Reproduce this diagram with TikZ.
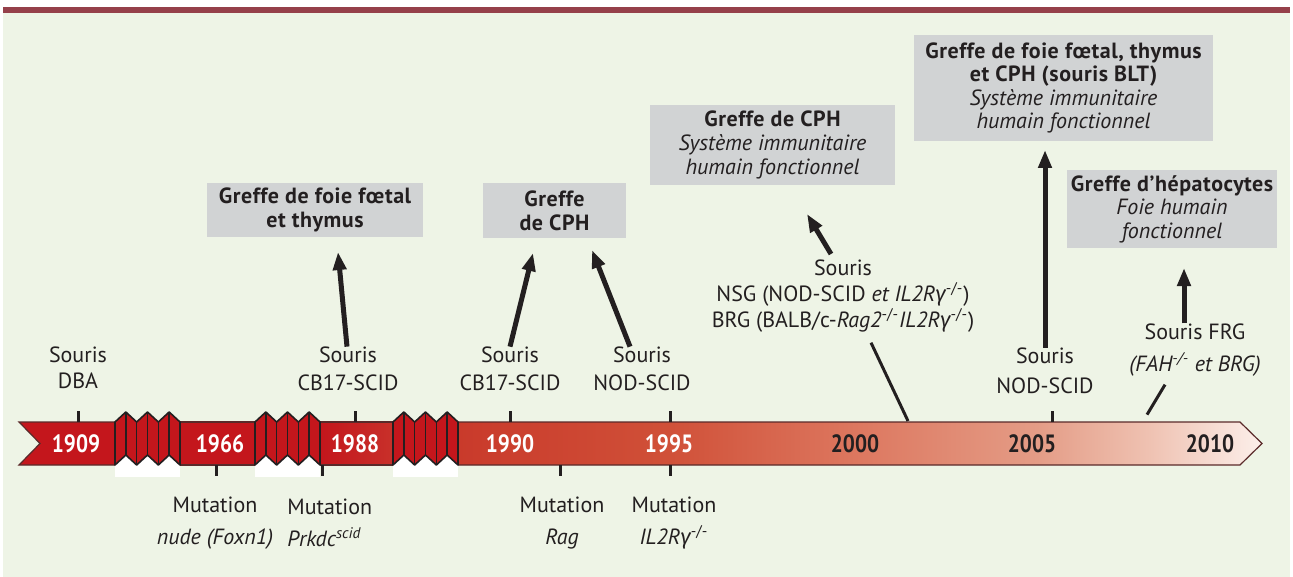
\documentclass[tikz,border=0pt]{standalone}
\usepackage{fontspec}
\setmainfont{PT Sans}
\newfontfamily\grkfont{Fira Sans}
\newfontfamily\yearfont[FakeStretch=0.85]{PT Sans}
\usetikzlibrary{arrows.meta}

\definecolor{bgcol}{HTML}{EEF4E6}
\definecolor{bandcol}{HTML}{95404A}
\definecolor{boxcol}{HTML}{D1D3D4}
\definecolor{inkcol}{HTML}{231F20}
\definecolor{redA}{HTML}{C4161C}
\definecolor{redB}{HTML}{C8302A}
\definecolor{fadeA}{HTML}{C93A2B}
\definecolor{fadeB}{HTML}{D05038}
\definecolor{fadeC}{HTML}{DD7860}
\definecolor{fadeD}{HTML}{E49C86}
\definecolor{fadeE}{HTML}{EFC2B2}
\definecolor{fadeF}{HTML}{FCEFEA}
\definecolor{rimcol}{HTML}{5A2A2A}

\pgfdeclarehorizontalshading{timefade}{100bp}{color(0bp)=(fadeA); color(25bp)=(fadeA); color(38bp)=(fadeB); color(50bp)=(fadeC); color(61bp)=(fadeD); color(68bp)=(fadeE); color(75bp)=(fadeF); color(100bp)=(fadeF)}
\pgfdeclarehorizontalshading{redfade}{100bp}{color(0bp)=(redA); color(25bp)=(redA); color(75bp)=(redB); color(100bp)=(redB)}

\newcommand{\gam}{{\grkfont\itshape γ}}
\newcommand{\ko}{\textsuperscript{-/-}}
\newcommand{\gbf}[1]{{\bfseries\addfontfeature{LetterSpace=2.5}#1}}

% one folded break of the time axis, #1 = left edge
\newcommand{\foldbreak}[1]{%
  \fill[white] (#1,455) rectangle ++(65,22);
  \filldraw[fold] (#1,422) \foreach \i in {1,...,6}{ -- ({#1+\i*65/6},{422-10*mod(\i,2)}) }
    \foreach \i in {6,...,0}{ -- ({#1+\i*65/6},{465-10*mod(\i,2)}) } -- cycle;
  \foreach \i in {1,...,5}
    \draw[fold] ({#1+\i*65/6},{422-10*mod(\i,2)}) -- ({#1+\i*65/6},{465-10*mod(\i,2)});
}

\begin{document}
\begin{tikzpicture}[x=0.5pt,y=-0.5pt,
  lbl/.style={align=center,inner sep=0pt,text=inkcol,font=\fontsize{11}{13}\selectfont},
  greffe/.style={fill=boxcol,align=center,inner sep=0pt,text=inkcol,font=\fontsize{11}{11.8}\selectfont},
  year/.style={inner sep=0pt,font=\fontsize{12.5}{14}\yearfont\bfseries},
  fold/.style={fill=redA,draw=inkcol,line width=0.8pt,line join=round},
  tick/.style={draw=inkcol,line width=1.5pt},
  bigarrow/.style={draw=inkcol,line width=2.5pt,-{Triangle[length=9pt,width=6.5pt]}},
  stem/.style={draw=inkcol,line width=1.5pt}]
\useasboundingbox (0,0) rectangle (1293,577);
\fill[bgcol] (3,13) rectangle (1290,577);
\fill[bandcol] (3,7) rectangle (1290,13);

% time axis
\filldraw[fill=redA,draw=rimcol,line width=0.6pt] (19,422) -- (115,422) -- (115,465) -- (19,465) -- (40,443.5) -- cycle;
\filldraw[fill=redA,draw=rimcol,line width=0.6pt] (180,422) rectangle (255,465);
\shadedraw[shading=redfade,draw=rimcol,line width=0.6pt] (320,422) rectangle (393,465);
\shadedraw[shading=timefade,draw=rimcol,line width=0.6pt] (458,422) -- (1240,422) -- (1262,443.5) -- (1240,465) -- (458,465) -- cycle;
\foldbreak{115}
\foldbreak{255}
\foldbreak{393}

\node[year,text=white] (y1909) at (76,444) {1909};
\node[year,text=white] (y1966) at (220,444) {1966};
\node[year,text=white] (y1988) at (355,444) {1988};
\node[year,text=white] (y1990) at (510,444) {1990};
\node[year,text=white] (y1995) at (669,444) {1995};
\node[year,text=inkcol] (y2000) at (855,444) {2000};
\node[year,text=inkcol] (y2005) at (1032,444) {2005};
\node[year,text=inkcol] (y2010) at (1210,444) {2010};

\foreach \x in {78,355,510,670,1052} \draw[tick] (\x,411) -- (\x,422);
\foreach \x in {216,322,560,670} \draw[tick] (\x,465) -- (\x,476);

% mice above the axis
\node[lbl] (dba) at (78,368) {Souris\\DBA};
\node[lbl] (cbA) at (348,369) {Souris\\[1pt]CB17-SCID};
\node[lbl] (cbB) at (510,369) {Souris\\[1pt]CB17-SCID};
\node[lbl] (nodA) at (642,369) {Souris\\[1pt]NOD-SCID};
\node[lbl] (nsg) at (843,296) {Souris\\NSG (NOD-SCID \textit{et IL2R}\gam\ko)\\BRG (BALB/c-\textit{Rag2}\ko\textit{IL2R}\gam\ko)};
\node[lbl] (nodB) at (1045,371) {Souris\\[2pt]NOD-SCID};
\node[lbl] (frg) at (1195,350) {Souris FRG\\[3pt]\textit{(FAH\ko\ et BRG)}};

% mutations below the axis
\node[lbl] (mutA) at (215,523) {Mutation\\[3pt]\textit{nude (Foxn1)}};
\node[lbl,align=left,anchor=west] (mutB) at (287,523) {Mutation\\[3pt]\textit{Prkdc\textsuperscript{scid}}};
\node[lbl] (mutC) at (562,523) {Mutation\\[3pt]\textit{Rag}};
\node[lbl] (mutD) at (674,523) {Mutation\\[3pt]\textit{IL2R}\gam\ko};

% grafts
\node[greffe,minimum width=108pt,minimum height=27pt] (gA) at (315,210) {\gbf{Greffe de foie fœtal}\\\gbf{et thymus}};
\node[greffe,minimum width=71.5pt,minimum height=27.5pt] (gB) at (554.5,210.5) {\gbf{Greffe}\\\gbf{de CPH}};
\node[greffe,minimum width=122.5pt,minimum height=40pt] (gC) at (772.5,145) {\gbf{Greffe de CPH}\\\textit{Système immunitaire}\\\textit{humain fonctionnel}};
\node[greffe,minimum width=149.5pt,minimum height=53pt] (gD) at (1063.5,88) {\gbf{Greffe de foie fœtal, thymus}\\\gbf{et CPH (souris BLT)}\\\textit{Système immunitaire}\\\textit{humain fonctionnel}};
\node[greffe,minimum width=105pt,minimum height=39pt] (gE) at (1172,209) {\gbf{Greffe d’hépatocytes}\\\textit{Foie humain}\\\textit{fonctionnel}};

\coordinate (tA) at (338,252);
\coordinate (tB) at (533,253);
\coordinate (tC) at (592,250);
\coordinate (tD) at (807,214);
\coordinate (sD) at (831,254);
\coordinate (tE) at (1045,150);
\coordinate (tF) at (1184,268);
\coordinate (nsgfoot) at (908,421);

\draw[bigarrow] ([xshift=-0.5pt]cbA.north) -- (tA);
\draw[bigarrow] (cbB.north) -- (tB);
\draw[bigarrow] ([xshift=-6pt]nodA.north) -- (tC);
\draw[bigarrow] (sD) -- (tD);
\draw[bigarrow] (nodB.north) -- (tE);
\draw[bigarrow] ([xshift=-5.5pt]frg.north) -- (tF);
\draw[stem] ([xshift=14pt,yshift=-5pt]nsg.south) -- (nsgfoot);
\draw[stem] ([xshift=-15pt,yshift=-4pt]frg.south) -- ++(-9pt,-15pt);

\end{tikzpicture}
\end{document}
